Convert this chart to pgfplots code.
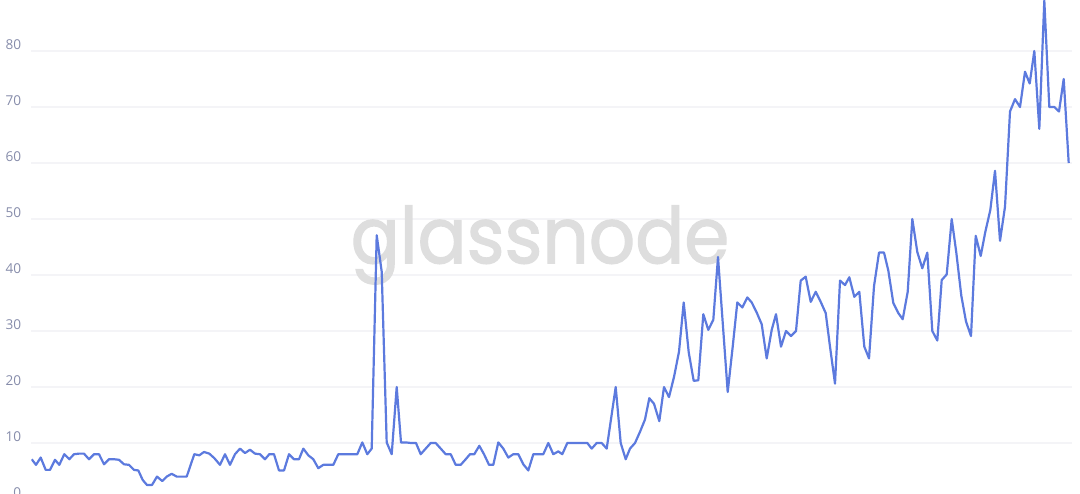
\documentclass[border=0pt]{standalone}
\usepackage{fontspec}
\usepackage{graphicx}
\usepackage{pgfplots}
\usepackage{pgfplotstable}
\pgfplotsset{compat=1.18}
\setmainfont{Open Sans}
\newfontfamily\wmfont{Poppins}[FakeBold=1.6]
\definecolor{linecol}{RGB}{92,122,222}
\definecolor{gridcol}{RGB}{244,244,247}
\definecolor{labcol}{RGB}{134,140,170}
\definecolor{wmcol}{RGB}{222,222,222}

\pgfplotstableread{
x y
31.7 7.1
36.0 6.1
40.7 7.4
45.7 5.2
50.0 5.2
55.0 7.0
59.3 6.1
64.3 8.0
69.3 7.1
74.0 8.0
79.0 8.1
84.0 8.1
89.0 7.1
94.0 8.0
99.0 8.0
104.0 6.2
109.0 7.1
114.0 7.1
119.0 7.0
124.0 6.2
129.0 6.1
134.0 5.2
138.3 5.1
142.7 3.4
147.0 2.5
152.0 2.5
157.0 4.0
162.3 3.2
166.7 4.0
171.7 4.5
176.7 4.0
181.7 4.0
186.7 4.0
194.3 8.0
199.3 7.8
204.0 8.4
209.3 8.1
214.3 7.3
220.0 6.1
225.0 8.0
230.0 6.1
235.0 8.0
240.0 9.0
245.0 8.2
250.0 8.8
255.0 8.1
260.0 8.0
265.0 7.1
269.3 8.0
274.0 8.0
279.0 5.1
284.0 5.1
289.0 8.0
294.0 7.1
299.0 7.1
303.3 9.0
308.3 7.8
313.3 7.1
318.3 5.5
323.3 6.1
328.3 6.1
333.3 6.1
338.3 8.0
343.3 8.0
348.3 8.0
353.3 8.0
357.3 8.0
362.3 10.1
367.3 8.0
371.7 9.0
376.7 47.1
381.7 40.6
386.7 10.1
391.7 8.0
396.7 20.0
401.0 10.1
406.0 10.1
411.0 10.0
416.0 10.0
420.7 8.0
425.7 9.0
430.7 10.0
435.7 10.0
440.7 9.0
445.7 8.0
450.7 8.0
455.7 6.1
460.7 6.1
465.7 7.1
470.0 8.0
474.3 8.0
479.3 9.5
484.0 8.0
489.0 6.1
493.3 6.1
498.3 10.1
503.3 9.0
508.3 7.4
513.3 8.0
518.3 8.0
523.3 6.2
528.3 5.1
533.3 8.0
538.3 8.0
543.3 8.0
548.3 10.0
553.3 8.0
558.3 8.5
562.3 8.0
567.3 10.0
572.3 10.0
577.3 10.0
582.3 10.0
587.3 10.0
591.7 9.0
596.7 10.0
601.7 10.0
606.7 9.0
615.7 20.0
620.7 10.0
625.7 7.1
630.0 9.0
635.0 10.0
640.0 12.0
645.0 14.2
649.3 18.0
654.0 17.0
659.3 13.9
664.0 20.0
669.0 18.2
674.0 21.8
679.0 26.3
683.7 35.1
688.7 26.2
693.7 21.1
698.3 21.2
703.3 33.0
708.3 30.2
713.3 32.0
718.0 43.2
727.7 19.1
732.7 27.2
737.3 35.1
742.3 34.2
747.3 36.0
751.7 35.1
756.7 33.3
761.7 31.2
766.7 25.1
771.7 30.2
776.0 33.0
781.0 27.2
786.0 30.0
791.0 29.1
796.0 30.0
800.7 39.0
805.7 39.7
810.7 35.2
815.7 37.0
820.7 35.2
825.7 33.2
830.0 27.2
835.0 20.6
840.0 39.0
845.0 38.2
849.3 39.6
854.3 36.1
859.3 37.0
864.3 27.2
869.0 25.1
874.0 38.0
879.0 44.0
884.0 44.0
888.3 40.8
893.3 35.0
898.3 33.2
902.7 32.1
907.7 37.0
912.3 50.0
917.3 44.1
922.3 41.2
927.3 44.0
932.3 30.0
937.3 28.3
941.7 39.1
946.7 40.1
951.7 50.0
956.3 44.0
961.3 36.3
966.0 31.7
971.0 29.1
975.7 47.0
980.7 43.4
985.3 47.7
990.3 51.6
995.0 58.6
1000.0 46.1
1005.0 52.2
1010.0 69.2
1015.0 71.4
1020.0 70.0
1025.0 76.3
1029.7 74.2
1034.3 80.0
1039.3 66.1
1044.3 89.0
1049.3 70.0
1054.3 70.0
1059.0 69.2
1063.7 75.0
1068.7 60.0
}\datatable

\begin{document}
\begin{tikzpicture}
\begin{axis}[
  scale only axis,
  width=520.25pt, height=249.5pt,
  xmin=31.5, xmax=1072,
  ymin=0, ymax=89.107,
  axis lines=left,
  axis line style={draw=none},
  xtick=\empty,
  ytick={0,10,...,80},
  major tick length=0pt,
  tick style={draw=none},
  ymajorgrids,
  grid style={draw=gridcol, line width=0.6pt},
  /pgf/number format/assume math mode=true,
  yticklabel style={font=\fontsize{6.8}{8}\selectfont, text=labcol, xshift=-1.6pt, yshift=3pt},
  clip=true,
]
\node[font=\wmfont\fontsize{39}{39}\selectfont, text=wmcol, anchor=base] at (axis cs:540,42.1) {\scalebox{0.93}[1]{glassnode}};
\addplot[draw=linecol, line width=1.1pt, line join=round, mark=none] table[x=x, y=y] {\datatable};
\end{axis}
\pgfresetboundingbox
\useasboundingbox ([xshift=-15.75pt,yshift=3pt]current axis.south west) rectangle ([xshift=4pt]current axis.north east);
\end{tikzpicture}
\end{document}
